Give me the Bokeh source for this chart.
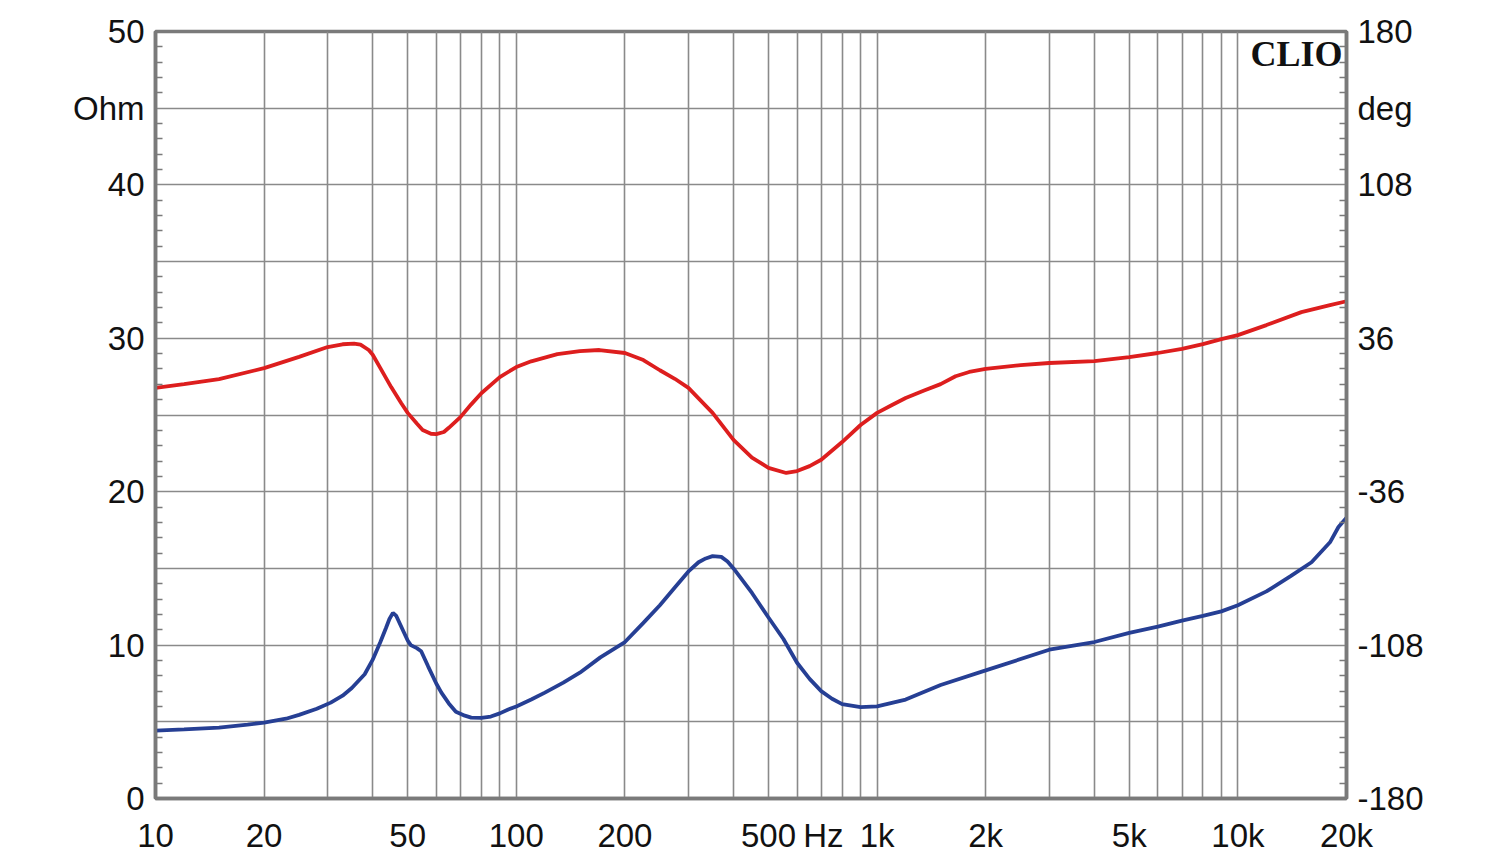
from bokeh.plotting import figure
from bokeh.models import FixedTicker, LinearAxis, Range1d, Label
from bokeh.embed import file_html
from bokeh.resources import INLINE

# Impedance magnitude (Ohm, left axis) - blue
freq_z = [10, 12, 15, 18, 20, 23, 25, 28, 30.6, 33, 35, 38, 40, 42, 43.5, 44.5, 45.5, 46.5, 48, 50, 51, 53,
          54.5, 57, 60, 62, 65, 68, 72, 75, 80, 85, 90, 95, 100, 110, 120, 135, 150, 171, 200, 225, 250,
          275, 300, 320, 335, 350, 370, 385, 400, 450, 500, 550, 600, 650, 700, 750, 800, 900, 1000, 1200,
          1500, 2000, 3000, 4000, 5000, 6000, 7000, 8000, 9000, 10000, 12000, 14000, 16000, 18000, 19000,
          20000]
imp_ohm = [4.43, 4.5, 4.62, 4.82, 4.95, 5.2, 5.45, 5.85, 6.25, 6.7, 7.2, 8.1, 9.05, 10.2, 11.1, 11.7, 12.1,
           11.9, 11.2, 10.3, 10.0, 9.8, 9.6, 8.6, 7.5, 6.9, 6.2, 5.66, 5.4, 5.27, 5.25, 5.34, 5.55, 5.8,
           6.0, 6.45, 6.9, 7.55, 8.2, 9.2, 10.2, 11.45, 12.6, 13.75, 14.8, 15.4, 15.65, 15.8, 15.75, 15.45,
           15.0, 13.4, 11.8, 10.4, 8.85, 7.8, 7.0, 6.5, 6.15, 5.95, 6.0, 6.45, 7.4, 8.35, 9.7, 10.2, 10.8,
           11.2, 11.6, 11.9, 12.2, 12.6, 13.5, 14.5, 15.4, 16.7, 17.7, 18.3]

# Impedance phase (deg, right axis) - red
freq_p = [10, 12, 15, 20, 25, 30, 33, 35.5, 37, 39, 40, 42, 45, 48, 50, 53, 55, 58, 60, 63, 65, 70, 75,
          80, 90, 100, 110, 130, 150, 170, 200, 225, 250, 275, 300, 350, 400, 450, 500, 560, 600, 650,
          700, 800, 900, 1000, 1100, 1200, 1350, 1500, 1650, 1800, 2000, 2500, 3000, 4000, 5000, 6000,
          7000, 8000, 9000, 10000, 12000, 15000, 18000, 20000]
phase_deg = [12.7, 14.5, 16.8, 22, 27.3, 31.9, 33.2, 33.5, 33, 30.5, 28.3, 22, 13.1, 5.5, 1, -4, -7, -8.8,
             -9, -8, -6, -1, 5, 10.2, 17.8, 22.5, 25.2, 28.6, 30, 30.5, 29.1, 25.8, 21, 17, 12.7, 1, -11.7,
             -20, -24.8, -27.2, -26.3, -24, -21, -12.7, -4.7, 1, 4.7, 8, 11.5, 14.5, 18.2, 20.2, 21.6,
             23.4, 24.4, 25.3, 27.2, 29.1, 31, 33.3, 35.6, 37.5, 42.2, 48.3, 51.6, 53.4]

# Axis ticks
x_grid = [10, 20, 30, 40, 50, 60, 70, 80, 90, 100, 200, 300, 400, 500, 600, 700, 800, 900, 1000,
          2000, 3000, 4000, 5000, 6000, 7000, 8000, 9000, 10000, 20000]
x_ticks = [10, 20, 50, 100, 200, 500, 710, 1000, 2000, 5000, 10000, 20000]
x_labels = ["10", "20", "50", "100", "200", "500", "Hz", "1k", "2k", "5k", "10k", "20k"]
y_ticks = [0, 10, 20, 30, 40, 45, 50]
y_labels = ["0", "10", "20", "30", "40", "Ohm", "50"]
deg_ticks = [-180, -108, -36, 36, 108, 144, 180]
deg_labels = ["-180", "-108", "-36", "36", "108", "deg", "180"]

GRID = "#8a8a8a"
FRAME = "#7a7a7a"
FONT = "Liberation Sans"
FS = "33px"

p = figure(width=1492, height=856, x_axis_type="log", x_range=(10, 20000), y_range=(0, 50),
           output_backend="svg", toolbar_location=None,
           min_border_left=155, min_border_right=146, min_border_top=31, min_border_bottom=57)
p.extra_y_ranges = {"deg": Range1d(-180, 180)}
p.background_fill_color = "white"
p.outline_line_color = FRAME
p.outline_line_width = 3.5

p.xgrid.ticker = FixedTicker(ticks=x_grid)
p.ygrid.ticker = FixedTicker(ticks=list(range(0, 51, 5)))
for g in (p.xgrid, p.ygrid):
    g.grid_line_color = GRID
    g.grid_line_width = 1.6
p.xgrid.minor_grid_line_color = None

minor_ohm = [i for i in range(0, 51) if i % 5]
minor_deg = [(i - 25) * 7.2 for i in minor_ohm]

xa = p.xaxis[0]
xa.ticker = FixedTicker(ticks=x_ticks, minor_ticks=[])
xa.major_label_overrides = {t: l for t, l in zip(x_ticks, x_labels)}

ya = p.yaxis[0]
ya.ticker = FixedTicker(ticks=y_ticks, minor_ticks=minor_ohm)
ya.major_label_overrides = {t: l for t, l in zip(y_ticks, y_labels)}

ra = LinearAxis(y_range_name="deg")
ra.ticker = FixedTicker(ticks=deg_ticks, minor_ticks=minor_deg)
ra.major_label_overrides = {t: l for t, l in zip(deg_ticks, deg_labels)}
p.add_layout(ra, "right")

for ax in (xa, ya, ra):
    ax.axis_line_color = FRAME
    ax.axis_line_width = 3.5
    ax.major_tick_in = 0
    ax.major_tick_out = 0
    ax.minor_tick_in = 7
    ax.minor_tick_out = 0
    ax.minor_tick_line_color = FRAME
    ax.minor_tick_line_width = 1.5
    ax.major_label_text_font = FONT
    ax.major_label_text_font_size = FS
    ax.major_label_text_color = "#111111"
    ax.major_label_standoff = 11
xa.major_label_standoff = 18

p.line(freq_p, phase_deg, y_range_name="deg", line_color="#dd1e1e", line_width=3.8)
p.line(freq_z, imp_ohm, line_color="#263f94", line_width=3.8)

p.add_layout(Label(x=20000, y=50, x_offset=-4, y_offset=-2, text="CLIO", text_align="right",
                   text_baseline="top", text_font="Liberation Serif", text_font_style="bold",
                   text_font_size="36px", text_color="#111111"))

open("out.html", "w").write(file_html(p, INLINE))
